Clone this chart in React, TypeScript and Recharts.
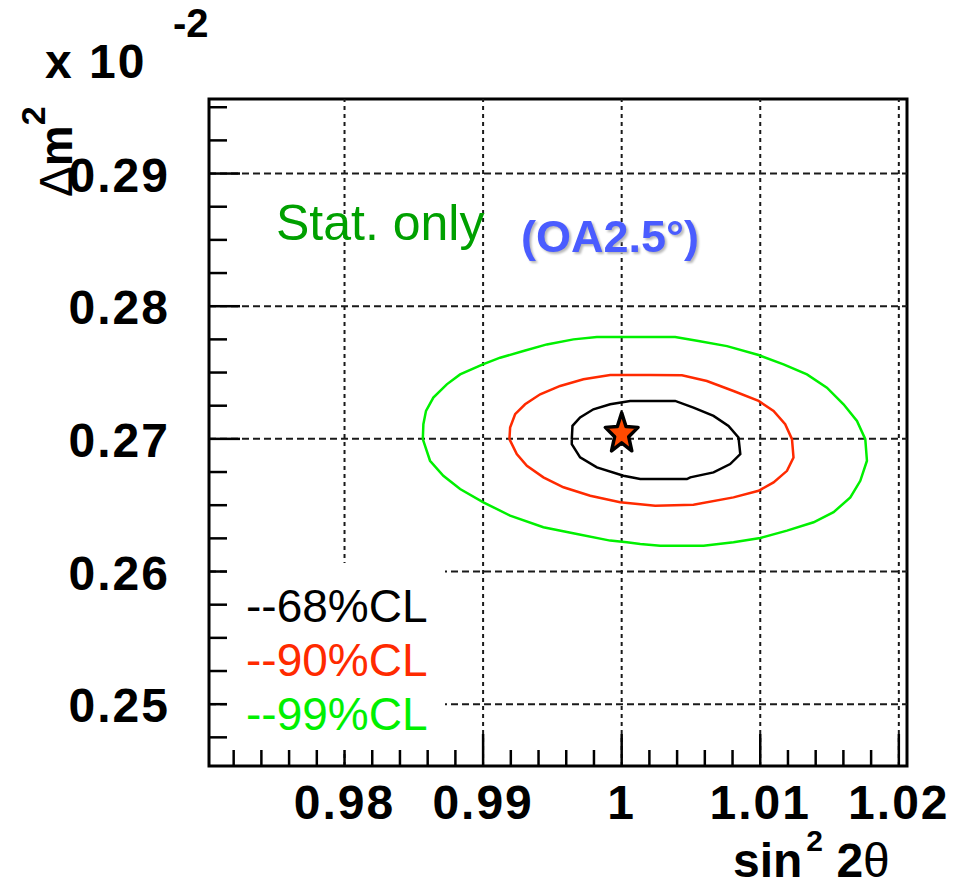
import React from 'react';
import {
  ScatterChart,
  Scatter,
  XAxis,
  YAxis,
  ReferenceLine,
  ReferenceArea,
  Legend
} from 'recharts';

const FONT = '"Liberation Sans", Arial, Helvetica, sans-serif';

// axis ranges (frame edges), values in units of 10^-2 on y
const xDomain = [0.97022, 1.02059];
const yDomain = [0.24534, 0.29562];

const xTicks = [
  0.972, 0.974, 0.976, 0.978, 0.98, 0.982, 0.984, 0.986, 0.988, 0.99, 0.992, 0.994, 0.996,
  0.998, 1.0, 1.002, 1.004, 1.006, 1.008, 1.01, 1.012, 1.014, 1.016, 1.018, 1.02
];
const xMajor = [0.98, 0.99, 1.0, 1.01, 1.02];
const xLabels = ['0.98', '0.99', '1', '1.01', '1.02'];

const yTicks = [
  0.2475, 0.25, 0.2525, 0.255, 0.2575, 0.26, 0.2625, 0.265, 0.2675, 0.27, 0.2725, 0.275,
  0.2775, 0.28, 0.2825, 0.285, 0.2875, 0.29, 0.2925, 0.295
];
const yMajor = [0.25, 0.26, 0.27, 0.28, 0.29];
const yLabels = ['0.25', '0.26', '0.27', '0.28', '0.29'];

// contours
const cl68 = [
  { x: 0.9964, y: 0.26998 }, { x: 0.99645, y: 0.27098 }, { x: 0.997, y: 0.27161 },
  { x: 0.99796, y: 0.27223 }, { x: 0.99917, y: 0.27261 }, { x: 1.00061, y: 0.27286 },
  { x: 1.00386, y: 0.27286 }, { x: 1.00518, y: 0.27236 }, { x: 1.00663, y: 0.27173 },
  { x: 1.00771, y: 0.27098 }, { x: 1.00843, y: 0.27011 }, { x: 1.00856, y: 0.26885 },
  { x: 1.00783, y: 0.2681 }, { x: 1.00663, y: 0.26747 }, { x: 1.00495, y: 0.2671 },
  { x: 1.00471, y: 0.26697 }, { x: 1.00134, y: 0.26697 }, { x: 1.00013, y: 0.26722 },
  { x: 0.99821, y: 0.26785 }, { x: 0.997, y: 0.2686 }, { x: 0.9964, y: 0.2696 },
  { x: 0.9964, y: 0.26998 }
];

const cl90 = [
  { x: 0.9919, y: 0.26998 }, { x: 0.99195, y: 0.27086 }, { x: 0.99231, y: 0.27186 },
  { x: 0.99303, y: 0.27261 }, { x: 0.99412, y: 0.27336 }, { x: 0.99556, y: 0.27399 },
  { x: 0.99724, y: 0.27449 }, { x: 0.99917, y: 0.27481 }, { x: 1.00206, y: 0.27481 },
  { x: 1.00435, y: 0.27479 }, { x: 1.00615, y: 0.27436 }, { x: 1.00807, y: 0.27361 },
  { x: 1.00988, y: 0.27286 }, { x: 1.01096, y: 0.27211 }, { x: 1.0118, y: 0.27111 },
  { x: 1.01229, y: 0.26998 }, { x: 1.0124, y: 0.2686 }, { x: 1.01193, y: 0.26759 },
  { x: 1.01096, y: 0.26672 }, { x: 1.00988, y: 0.26609 }, { x: 1.00807, y: 0.26559 },
  { x: 1.00518, y: 0.26504 }, { x: 1.00242, y: 0.26496 }, { x: 0.99989, y: 0.26522 },
  { x: 0.99773, y: 0.26571 }, { x: 0.9958, y: 0.26635 }, { x: 0.99435, y: 0.2671 },
  { x: 0.99316, y: 0.26797 }, { x: 0.99243, y: 0.26885 }, { x: 0.9919, y: 0.26998 }
];

const cl99 = [
  { x: 0.98565, y: 0.26998 }, { x: 0.98569, y: 0.27111 }, { x: 0.98588, y: 0.27211 },
  { x: 0.98641, y: 0.27311 }, { x: 0.98738, y: 0.27411 }, { x: 0.98834, y: 0.27486 },
  { x: 0.98998, y: 0.27562 }, { x: 0.99123, y: 0.27612 }, { x: 0.99291, y: 0.27662 },
  { x: 0.9946, y: 0.27712 }, { x: 0.99652, y: 0.2775 }, { x: 0.99821, y: 0.27767 },
  { x: 1.00134, y: 0.27768 }, { x: 1.00386, y: 0.27767 }, { x: 1.00554, y: 0.27737 },
  { x: 1.0076, y: 0.27699 }, { x: 1.00988, y: 0.27632 }, { x: 1.01168, y: 0.27562 },
  { x: 1.01337, y: 0.27486 }, { x: 1.01481, y: 0.27386 }, { x: 1.01601, y: 0.27261 },
  { x: 1.01698, y: 0.27135 }, { x: 1.01758, y: 0.26998 }, { x: 1.0177, y: 0.26835 },
  { x: 1.01722, y: 0.26684 }, { x: 1.0165, y: 0.26559 }, { x: 1.01529, y: 0.26447 },
  { x: 1.01385, y: 0.26371 }, { x: 1.01193, y: 0.26308 }, { x: 1.01, y: 0.26253 },
  { x: 1.00807, y: 0.26221 }, { x: 1.00591, y: 0.26195 }, { x: 1.00278, y: 0.26195 },
  { x: 1.00134, y: 0.26208 }, { x: 1.00038, y: 0.26221 }, { x: 0.99917, y: 0.26233 },
  { x: 0.99677, y: 0.26283 }, { x: 0.99435, y: 0.26334 }, { x: 0.99195, y: 0.26421 },
  { x: 0.99002, y: 0.26522 }, { x: 0.98834, y: 0.26622 }, { x: 0.98713, y: 0.26722 },
  { x: 0.98617, y: 0.26835 }, { x: 0.98565, y: 0.26998 }
];

const bestFit = [{ x: 1.0, y: 0.27 }];

const majorIndex = (list: number[], v: number) =>
  list.findIndex((m) => Math.abs(m - v) < 1e-9);

const XTick = ({ x, y, payload }: any) => {
  const i = majorIndex(xMajor, payload.value);
  return (
    <g>
      <line x1={x} x2={x} y1={y} y2={y - (i >= 0 ? 32 : 16)} stroke="#000" strokeWidth={2.5} />
      {i >= 0 && (
        <text x={x} y={y + 53} textAnchor="middle" fontFamily={FONT} fontWeight="bold"
          fontSize={48} letterSpacing={2} fill="#000">
          {xLabels[i]}
        </text>
      )}
    </g>
  );
};

const YTick = ({ x, y, payload }: any) => {
  const i = majorIndex(yMajor, payload.value);
  return (
    <g>
      <line x1={x} x2={x + (i >= 0 ? 31 : 18)} y1={y} y2={y} stroke="#000" strokeWidth={2.5} />
      {i >= 0 && (
        <text x={x - 39} y={y + 18} textAnchor="end" fontFamily={FONT} fontWeight="bold"
          fontSize={48} letterSpacing={2} fill="#000">
          {yLabels[i]}
        </text>
      )}
    </g>
  );
};

const noDot = () => <g />;

const StarMark = ({ cx, cy }: any) => {
  const pts: string[] = [];
  for (let k = 0; k < 10; k++) {
    const r = k % 2 === 0 ? 21 : 9;
    const a = -Math.PI / 2 + (k * Math.PI) / 5;
    pts.push(`${cx + r * Math.cos(a) * 0.82},${cy - 5 + r * Math.sin(a)}`);
  }
  return (
    <polygon points={pts.join(' ')} fill="#ff4a00" stroke="#000" strokeWidth={3.5}
      strokeLinejoin="round" />
  );
};

// texts placed relative to the plot frame (y axis viewBox)
const Annotations = (props: any) => {
  const vb = props.viewBox;
  const left = vb.x + vb.width;
  const top = vb.y;
  const ax = left - 137;
  const ay = top + 98;
  return (
    <g fontFamily={FONT}>
      <text x={left - 164} y={top - 21} fontWeight="bold" fontSize={48} letterSpacing={2} fill="#000">
        x 10
      </text>
      <text x={left - 36} y={top - 62} fontWeight="bold" fontSize={40} fill="#000">
        -2
      </text>
      <text x={ax} y={ay} transform={`rotate(-90 ${ax} ${ay})`} fontSize={46} fill="#000">
        Δ<tspan fontWeight="bold">m</tspan>
        <tspan fontWeight="bold" fontSize={34} dy={-27}>2</tspan>
      </text>
      <text x={left + 67} y={top + 141} fontSize={50} fill="#00a000">
        Stat. only
      </text>
      <text x={left + 312} y={top + 153} fontWeight="bold" fontSize={45} fill="#4a5cff"
        style={{ filter: 'drop-shadow(2px 2px 1px #b8b8b8)' }}>
        (OA2.5°)
      </text>
    </g>
  );
};

const XTitle = (props: any) => {
  const vb = props.viewBox;
  const x0 = vb.x + 524;
  const y0 = vb.y + 111;
  return (
    <text x={x0} y={y0} fontFamily={FONT} fontWeight="bold" fontSize={48} fill="#000">
      sin
      <tspan fontSize={30} dx={4} dy={-26}>2</tspan>
      <tspan dy={26}> 2</tspan>
      <tspan fontWeight="normal">θ</tspan>
    </text>
  );
};

const LegendBox = ({ payload }: any) => (
  <div style={{ background: '#fff', width: '100%', height: '100%', padding: '16px 0 0 19px', boxSizing: 'border-box' }}>
    {(payload || [])
      .filter((e: any) => e.type !== 'none')
      .map((e: any) => (
        <div key={e.value} style={{ color: e.color, font: `46px/54px ${FONT}`, whiteSpace: 'nowrap' }}>
          {e.value}
        </div>
      ))}
  </div>
);

export default function App() {
  return (
    <div style={{ position: 'absolute', left: 0, top: 0, width: 978, height: 888, background: '#fff' }}>
      <ScatterChart width={978} height={888} margin={{ top: 99, right: 71, bottom: 92, left: 149 }}>
        <XAxis type="number" dataKey="x" domain={xDomain} allowDataOverflow ticks={xTicks}
          interval={0} tick={<XTick />} tickSize={0} tickMargin={0} axisLine={false}
          tickLine={false} height={30} label={XTitle} />
        <YAxis type="number" dataKey="y" domain={yDomain} allowDataOverflow ticks={yTicks}
          interval={0} tick={<YTick />} tickSize={0} tickMargin={0} axisLine={false}
          tickLine={false} width={60} label={Annotations} />
        {xMajor.map((v) => (
          <ReferenceLine key={`vx${v}`} x={v} stroke="#1a1a1a" strokeWidth={2} strokeDasharray="4 4" />
        ))}
        {yMajor.map((v) => (
          <ReferenceLine key={`hy${v}`} y={v} stroke="#1a1a1a" strokeWidth={2} strokeDasharray="7 4" />
        ))}
        <ReferenceArea x1={xDomain[0]} x2={xDomain[1]} y1={yDomain[0]} y2={yDomain[1]}
          fill="none" fillOpacity={0} stroke="#000" strokeWidth={3} ifOverflow="visible" />
        <Scatter name="--68%CL" data={cl68} fill="#000000" line={{ stroke: '#000000', strokeWidth: 2.5 }}
          lineType="joint" shape={noDot} isAnimationActive={false} />
        <Scatter name="--90%CL" data={cl90} fill="#ff2a00" line={{ stroke: '#ff2a00', strokeWidth: 2.5 }}
          lineType="joint" shape={noDot} isAnimationActive={false} />
        <Scatter name="--99%CL" data={cl99} fill="#00f000" line={{ stroke: '#00f000', strokeWidth: 2.5 }}
          lineType="joint" shape={noDot} isAnimationActive={false} />
        <Scatter name="best fit" data={bestFit} shape={StarMark} legendType="none" isAnimationActive={false} />
        <Legend layout="vertical" align="center" verticalAlign="middle" content={LegendBox}
          wrapperStyle={{ position: 'absolute', left: 227, top: 563, width: 218, height: 187 }} />
      </ScatterChart>
    </div>
  );
}
